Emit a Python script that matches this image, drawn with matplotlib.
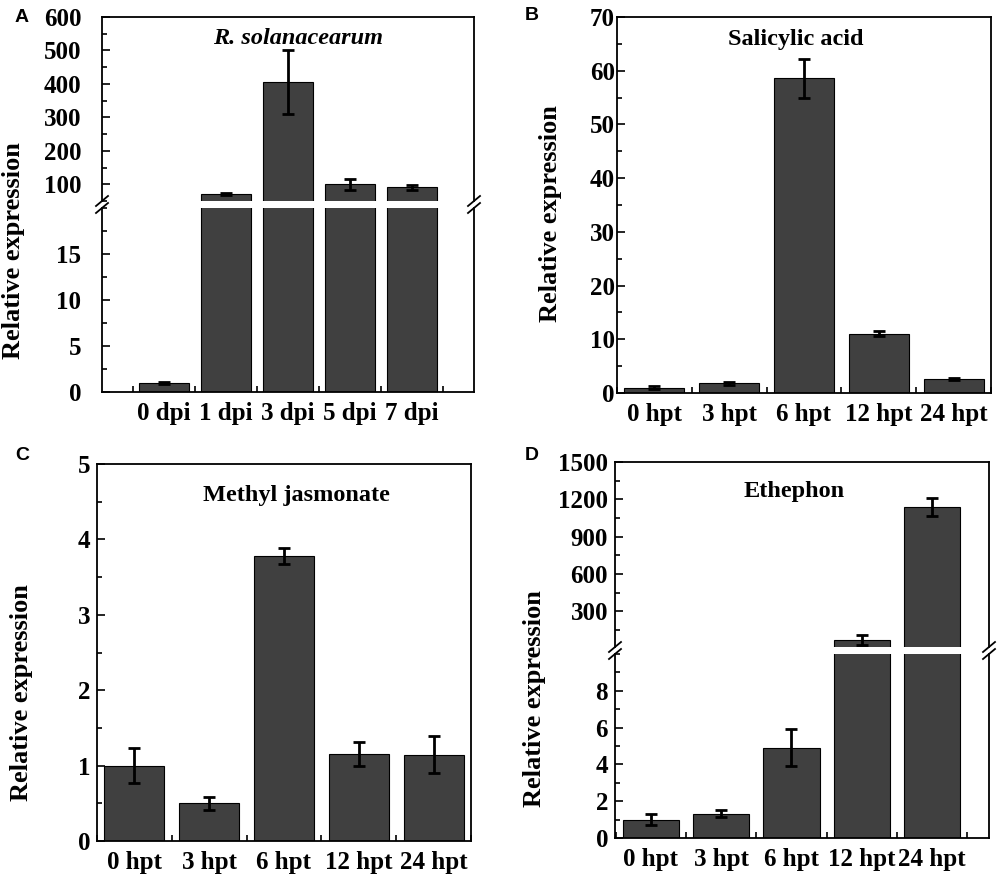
import matplotlib
matplotlib.use('Agg')
import matplotlib.pyplot as plt
from matplotlib.ticker import MultipleLocator, FixedLocator
import numpy as np

###
# DADOS
###
dpi_labels = ['0 dpi', '1 dpi', '3 dpi', '5 dpi', '7 dpi']
rs_media = [1.0, 71, 405, 100, 91]          # R. solanacearum
rs_erro = [0.12, 4, 95, 16, 8]

hpt_labels = ['0 hpt', '3 hpt', '6 hpt', '12 hpt', '24 hpt']
sa_media = [1.0, 1.8, 58.6, 11.05, 2.55]    # Salicylic acid
sa_erro = [0.3, 0.3, 3.6, 0.5, 0.2]

meja_media = [1.0, 0.5, 3.78, 1.155, 1.146]  # Methyl jasmonate
meja_erro = [0.23, 0.09, 0.1, 0.155, 0.25]

eth_media = [1.0, 1.32, 4.91, 75, 1137]     # Ethephon
eth_erro = [0.32, 0.2, 1.0, 40, 71]

plt.rcParams['font.family'] = 'Liberation Serif'
plt.rcParams['font.weight'] = 'bold'

W, H = 1000, 876
fig = plt.figure(figsize=(10, 8.76), dpi=100)


def caixa(l, r, t, b):
    # converte pixels (topo = 0) para fração da figura
    return [l / W, 1 - b / H, (r - l) / W, (b - t) / H]


def estilo(ax, pad_y):
    ax.tick_params(axis='y', which='both', direction='in', labelsize=18,
                   pad=pad_y, width=1.2)
    ax.tick_params(axis='y', which='major', length=6)
    ax.tick_params(axis='y', which='minor', length=3.5)
    ax.tick_params(axis='x', which='major', length=0, labelsize=18, pad=7)
    ax.tick_params(axis='x', which='minor', direction='in', length=4, width=1.2)
    ax.xaxis.set_minor_locator(FixedLocator(np.arange(-0.5, 5, 1)))
    for s in ax.spines.values():
        s.set_linewidth(1.3)


def barras(ax, labels, media, erro, y_min=None):
    x = np.arange(len(labels))
    ax.bar(x, media, width=0.8, color='#404040', edgecolor='black', linewidth=0.8)
    media = np.array(media, dtype=float)
    erro = np.array(erro, dtype=float)
    ok = np.ones(len(x), bool) if y_min is None else (media > y_min)
    ax.errorbar(x[ok], media[ok], yerr=erro[ok], fmt='none', ecolor='black',
                elinewidth=2, capsize=4, capthick=2)
    ax.set_xticks(x)
    ax.set_xticklabels(labels)


def quebra(ax_cima, ax_baixo):
    # marcas "//" no eixo quebrado
    for ax, y in [(ax_cima, 0), (ax_baixo, 1)]:
        bb = ax.get_position()
        dx = 6 / (bb.width * W)
        dy = 5 / (bb.height * H)
        for x in (0, 1):
            ax.plot([x - dx, x + dx], [y - dy, y + dy], transform=ax.transAxes,
                    color='k', lw=1.3, clip_on=False)


###
# PAINEL A (eixo quebrado)
###
axA1 = fig.add_axes(caixa(102, 474, 17, 201))
axA2 = fig.add_axes(caixa(102, 474, 208, 392))
barras(axA1, dpi_labels, rs_media, rs_erro, y_min=50)
barras(axA2, dpi_labels, rs_media, rs_erro)
for ax in (axA1, axA2):
    estilo(ax, 15)
    ax.set_xlim(-1, 5)
axA1.set_ylim(50, 600)
axA1.yaxis.set_major_locator(FixedLocator([100, 200, 300, 400, 500, 600]))
axA1.yaxis.set_minor_locator(MultipleLocator(50))
axA1.spines['bottom'].set_visible(False)
axA1.tick_params(axis='x', which='both', bottom=False, labelbottom=False)
axA2.set_ylim(0, 20)
axA2.yaxis.set_major_locator(FixedLocator([0, 5, 10, 15]))
axA2.yaxis.set_minor_locator(MultipleLocator(2.5))
axA2.spines['top'].set_visible(False)
quebra(axA1, axA2)

###
# PAINEL B
###
axB = fig.add_axes(caixa(617, 991, 17, 393))
barras(axB, hpt_labels, sa_media, sa_erro)
estilo(axB, 1.5)
axB.set_xlim(-0.5, 4.5)
axB.set_ylim(0, 70)
axB.yaxis.set_major_locator(MultipleLocator(10))
axB.yaxis.set_minor_locator(MultipleLocator(5))

###
# PAINEL C
###
axC = fig.add_axes(caixa(97, 471, 464, 841))
barras(axC, hpt_labels, meja_media, meja_erro)
estilo(axC, 5)
axC.set_xlim(-0.5, 4.5)
axC.set_ylim(0, 5)
axC.yaxis.set_major_locator(MultipleLocator(1))
axC.yaxis.set_minor_locator(MultipleLocator(0.5))

###
# PAINEL D (eixo quebrado)
###
axD1 = fig.add_axes(caixa(615, 989, 462, 647))
axD2 = fig.add_axes(caixa(615, 989, 654, 838))
barras(axD1, hpt_labels, eth_media, eth_erro, y_min=15)
barras(axD2, hpt_labels, eth_media, eth_erro)
for ax in (axD1, axD2):
    estilo(ax, 5)
    ax.set_xlim(-0.51, 4.81)
axD1.set_ylim(15, 1500)
axD1.yaxis.set_major_locator(FixedLocator([300, 600, 900, 1200, 1500]))
axD1.yaxis.set_minor_locator(MultipleLocator(150))
axD1.spines['bottom'].set_visible(False)
axD1.tick_params(axis='x', which='both', bottom=False, labelbottom=False)
axD2.set_ylim(0, 10)
axD2.yaxis.set_major_locator(FixedLocator([0, 2, 4, 6, 8]))
axD2.yaxis.set_minor_locator(MultipleLocator(1))
axD2.spines['top'].set_visible(False)
quebra(axD1, axD2)

###
# TEXTOS
###
fig.text(298 / W, 1 - 38 / H, 'R. solanacearum', style='italic', fontsize=17.5,
         ha='center', va='center')
fig.text(796 / W, 1 - 40 / H, 'Salicylic acid', fontsize=17.5, ha='center', va='center')
fig.text(296 / W, 1 - 495 / H, 'Methyl jasmonate', fontsize=17.5, ha='center', va='center')
fig.text(794 / W, 1 - 492 / H, 'Ethephon', fontsize=17.5, ha='center', va='center')

for x, y in [(14, 251), (550, 214), (22, 693), (534, 699)]:
    fig.text(x / W, 1 - y / H, 'Relative expression', rotation=90, fontsize=19,
             ha='center', va='center')

for letra, x, y in [('A', 22, 17), ('B', 532, 16), ('C', 22, 455), ('D', 532, 455)]:
    fig.text(x / W, 1 - y / H, letra, family='Liberation Sans', fontsize=14,
             weight='bold', ha='center', va='center')

fig.savefig('out.png', dpi=100)
